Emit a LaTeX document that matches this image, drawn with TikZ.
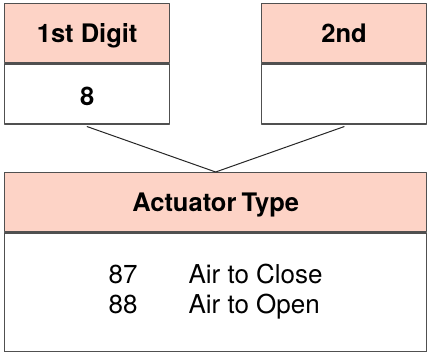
\documentclass[tikz,border=0pt]{standalone}
\usepackage{fontspec}
\setmainfont{TeX Gyre Heros}
\usetikzlibrary{positioning}
\definecolor{headpink}{HTML}{FDD3C6}
\definecolor{edgegray}{HTML}{505050}
\tikzset{
  boxline/.style={draw=edgegray,line width=1.3pt},
  headbox/.style={boxline,fill=headpink,minimum width=165pt,minimum height=59pt,inner sep=0pt,text height=18pt,text depth=0pt,font=\fontsize{25.5}{28}\selectfont\bfseries},
  valbox/.style={boxline,fill=white,minimum width=165pt,minimum height=60pt,inner sep=0pt,font=\fontsize{25.5}{28}\selectfont\bfseries},
  link/.style={draw=black!85,line width=1pt}
}
\begin{document}
\begin{tikzpicture}[x=1pt,y=1pt,line cap=round,line join=round]
	\useasboundingbox (0,0) rectangle (428,-352);
	% digit boxes
	\node[headbox,anchor=north west] (digone) at (4,-3) {1st Digit};
	\node[valbox,below=0pt of digone,text height=24pt,text depth=0pt] (valone) {8};
	\node[headbox,anchor=north west] (digtwo) at (261,-3) {2nd};
	\node[valbox,below=0pt of digtwo] (valtwo) {};
	% actuator type
	\node[headbox,minimum width=422pt,anchor=north west] (typehead) at (4,-172) {Actuator\hspace{-2pt} Type};
	\node[valbox,minimum width=422pt,minimum height=119pt,below=0pt of typehead,font=\fontsize{26}{30}\selectfont] (typebody)
		{\begin{tabular}{c@{\hspace{51pt}}l}87 & Air to Close\\88 & Air to Open\end{tabular}};
	\draw[link] ([yshift=-2pt]valone.south) -- (typehead.north) -- ([yshift=-2pt]valtwo.south);
\end{tikzpicture}
\end{document}
